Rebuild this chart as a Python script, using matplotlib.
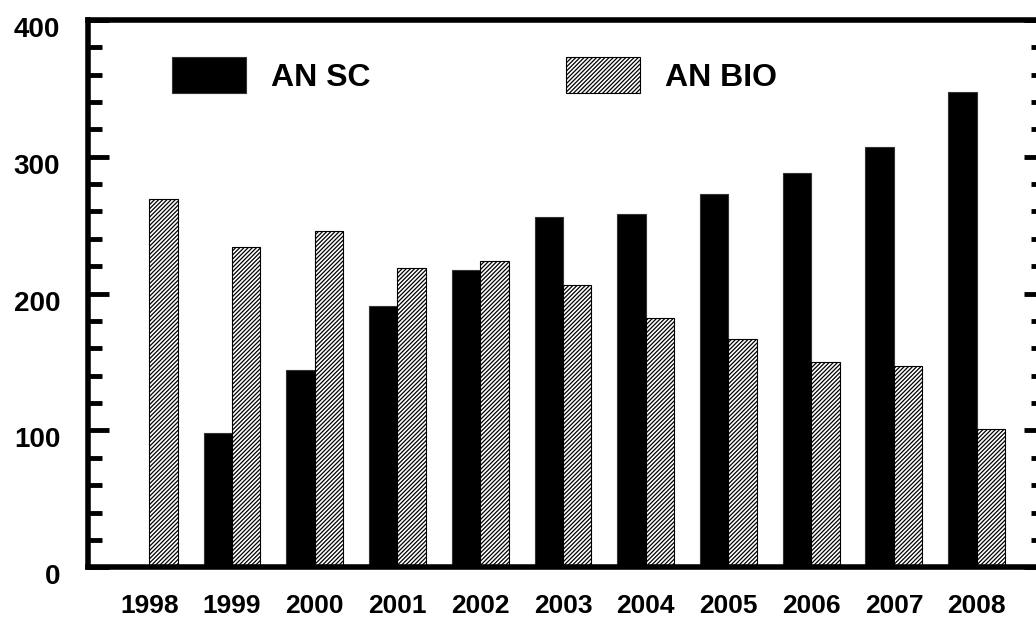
import numpy as np
import matplotlib
matplotlib.use("Agg")
import matplotlib.pyplot as plt
import matplotlib.transforms as mtransforms
from matplotlib.ticker import MultipleLocator

years = ["1998", "1999", "2000", "2001", "2002", "2003",
         "2004", "2005", "2006", "2007", "2008"]
an_sc = [0, 98, 144, 191, 217, 256, 258, 273, 288, 307, 347]
an_bio = [269, 234, 246, 219, 224, 206, 182, 167, 150, 147, 101]

plt.rcParams['font.family'] = ['Liberation Sans', 'DejaVu Sans']
plt.rcParams['font.weight'] = 'bold'
plt.rcParams['hatch.linewidth'] = 0.9

fig = plt.figure(figsize=(10.36, 6.2), dpi=100)
ax = fig.add_axes([0.085, 0.085, 0.924, 0.883])

x = np.arange(len(years))
w = 0.344
ax.bar(x - w / 2, an_sc, w, color='black', edgecolor='#333333',
       linewidth=0.8, label="AN SC")
ax.bar(x + w / 2, an_bio, w, color='white', edgecolor='black',
       linewidth=0.8, hatch='////////', label="AN BIO")

ax.set_xlim(-0.74, 10.83)
ax.set_ylim(0, 400)
ax.set_xticks(x)
ax.set_xticklabels(years)
ax.yaxis.set_major_locator(MultipleLocator(100))
ax.yaxis.set_minor_locator(MultipleLocator(20))

for s in ['left', 'top', 'bottom']:
    ax.spines[s].set_linewidth(4)
ax.spines['right'].set_visible(False)

ax.tick_params(axis='x', length=0, pad=19, labelsize=19)
ax.tick_params(axis='y', which='major', direction='in', length=15, width=3.5,
               pad=20, labelsize=20, right=True)
ax.tick_params(axis='y', which='minor', direction='in', length=10, width=3.5,
               right=True)

# labels of the y axis sit a bit low in the original
off = mtransforms.ScaledTranslation(0, -5 / 72, fig.dpi_scale_trans)
for lab in ax.get_yticklabels():
    lab.set_transform(lab.get_transform() + off)

ax.legend(loc='upper left', bbox_to_anchor=(171.7 / 1036, 1 - 57.3 / 620),
          bbox_transform=fig.transFigure, ncol=2, frameon=False,
          fontsize=23, handlelength=2.34, handleheight=1.34,
          handletextpad=0.78, columnspacing=6.1, borderpad=0,
          borderaxespad=0)

fig.savefig("out.png", dpi=100)
